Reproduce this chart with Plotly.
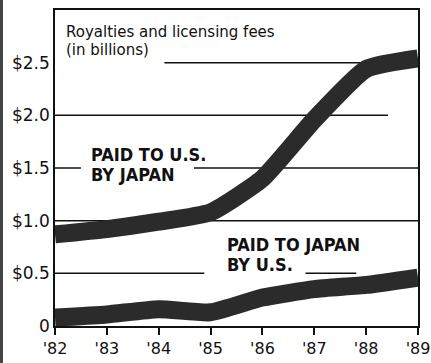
import plotly.graph_objects as go

years = [1982, 1983, 1984, 1985, 1986, 1987, 1988, 1989]
year_labels = ["'82", "'83", "'84", "'85", "'86", "'87", "'88", "'89"]
paid_to_us_by_japan = [0.87, 0.92, 0.99, 1.08, 1.40, 1.96, 2.44, 2.54]
paid_to_japan_by_us = [0.08, 0.11, 0.16, 0.13, 0.27, 0.35, 0.39, 0.46]
y_ticks = [0, 0.5, 1.0, 1.5, 2.0, 2.5]
y_tick_labels = ["0", "$0.5", "$1.0", "$1.5", "$2.0", "$2.5"]

INK = "#111111"
LINE = "#2b2b2b"
LABEL_FONT = "Liberation Sans Narrow, DejaVu Sans Condensed, Arial Narrow, DejaVu Sans"
TEXT_FONT = "DejaVu Sans, Verdana, sans-serif"

fig = go.Figure()
fig.add_trace(go.Scatter(x=years, y=paid_to_us_by_japan, mode="lines",
                         line=dict(color=LINE, width=18, shape="spline", smoothing=0.5),
                         hoverinfo="skip"))
fig.add_trace(go.Scatter(x=years, y=paid_to_japan_by_us, mode="lines",
                         line=dict(color=LINE, width=18, shape="spline", smoothing=0.5),
                         hoverinfo="skip"))

# partial gridlines (interrupted by labels as in the original)
grid_segments = [
    (2.5, 1984.11, 1989.0),
    (2.0, 1982.0, 1988.42),
    (1.5, 1982.0, 1982.5),
    (1.5, 1984.68, 1989.0),
    (1.0, 1982.0, 1989.0),
    (0.5, 1982.0, 1984.88),
    (0.5, 1986.83, 1987.81),
]
shapes = []
for yv, x0, x1 in grid_segments:
    shapes.append(dict(type="line", xref="x", yref="y", x0=x0, x1=x1, y0=yv, y1=yv,
                       line=dict(color=INK, width=1.5), layer="below"))
# scanned dark edge at far left
shapes.append(dict(type="rect", xref="paper", yref="paper", x0=-55/363, x1=-52/363,
                   y0=-0.2, y1=1.1, fillcolor="#444444", line=dict(width=0), layer="above"))

annotations = [
    dict(text="Royalties and licensing fees", x=1982.17, y=2.90, xref="x", yref="y",
         xanchor="left", yanchor="top", showarrow=False,
         font=dict(family=TEXT_FONT, size=15, color=INK)),
    dict(text="(in billions)", x=1982.17, y=2.72, xref="x", yref="y",
         xanchor="left", yanchor="top", showarrow=False,
         font=dict(family=TEXT_FONT, size=15, color=INK)),
    dict(text="<b>PAID TO U.S.</b>", x=1982.65, y=1.75, xref="x", yref="y",
         xanchor="left", yanchor="top", showarrow=False,
         font=dict(family=LABEL_FONT, size=18, color=INK)),
    dict(text="<b>BY JAPAN</b>", x=1982.65, y=1.56, xref="x", yref="y",
         xanchor="left", yanchor="top", showarrow=False,
         font=dict(family=LABEL_FONT, size=18, color=INK)),
    dict(text="<b>PAID TO JAPAN</b>", x=1985.28, y=0.89, xref="x", yref="y",
         xanchor="left", yanchor="top", showarrow=False,
         font=dict(family=LABEL_FONT, size=18, color=INK)),
    dict(text="<b>BY U.S.</b>", x=1985.28, y=0.70, xref="x", yref="y",
         xanchor="left", yanchor="top", showarrow=False,
         font=dict(family=LABEL_FONT, size=18, color=INK)),
]

fig.update_layout(
    width=431, height=363,
    margin=dict(l=55, r=13, t=10, b=37),
    paper_bgcolor="white", plot_bgcolor="white",
    showlegend=False,
    shapes=shapes, annotations=annotations,
    xaxis=dict(range=[1982, 1989], tickvals=years, ticktext=year_labels,
               showgrid=False, zeroline=False, showline=True, mirror=True,
               linecolor=INK, linewidth=1.5, ticks="outside", ticklen=7,
               tickcolor=INK, tickwidth=1.5, automargin=False,
               ticklabeloverflow="allow",
               tickfont=dict(family=TEXT_FONT, size=16, color=INK)),
    yaxis=dict(range=[0, 3.0], tickvals=y_ticks, ticktext=y_tick_labels,
               showgrid=False, zeroline=False, showline=True, mirror=True,
               linecolor=INK, linewidth=1.5, ticks="", automargin=False,
               tickfont=dict(family=TEXT_FONT, size=17, color=INK)),
)

fig.write_html("out.html")
